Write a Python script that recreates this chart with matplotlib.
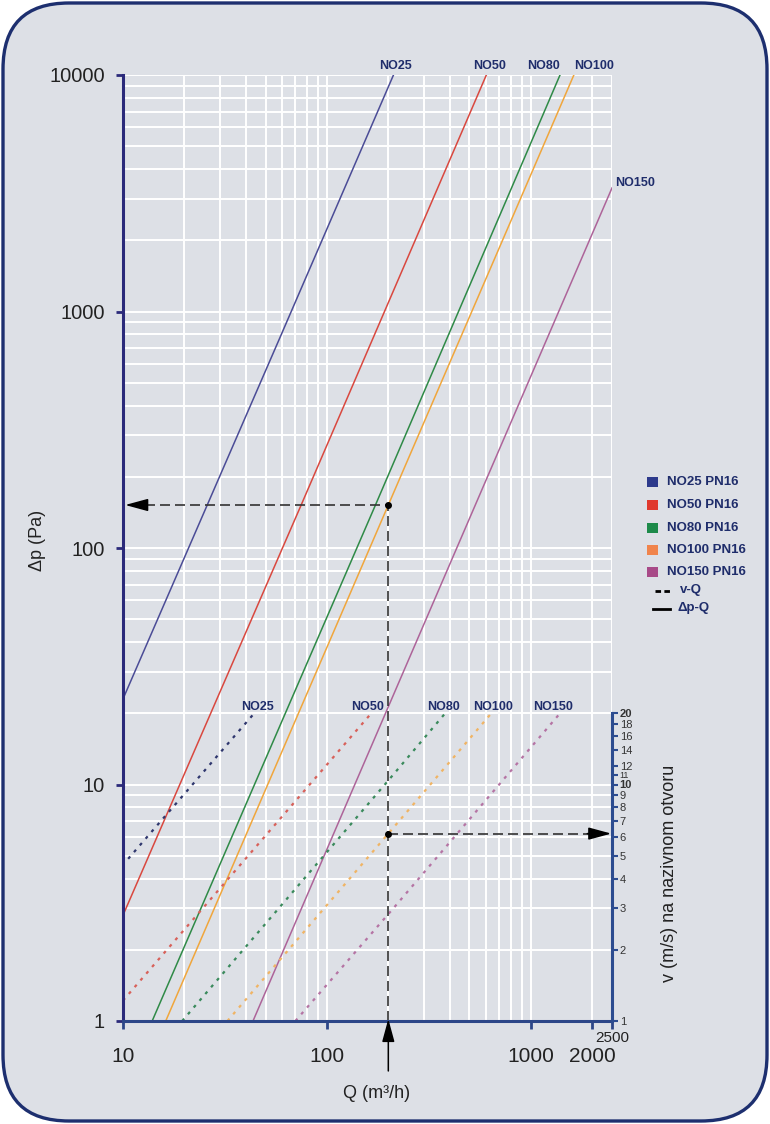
import matplotlib
matplotlib.use('Agg')
import matplotlib.pyplot as plt
from matplotlib.patches import FancyBboxPatch, Rectangle
from matplotlib.lines import Line2D
from matplotlib.ticker import FixedLocator, NullFormatter

plt.rcParams['font.family'] = ['Liberation Sans', 'DejaVu Sans']

# pressure drop curves (dp-Q)
sizes = ['NO25', 'NO50', 'NO80', 'NO100', 'NO150']
dp_q = {
    'NO25': [10, 59, 212],
    'NO50': [10, 75.5, 605],
    'NO80': [13.9, 173, 1390],
    'NO100': [16.2, 200, 1625],
    'NO150': [43.4, 137, 2500],
}
dp_val = {
    'NO25': [23, 780, 10000],
    'NO50': [2.8, 155, 10000],
    'NO80': [1, 152, 10000],
    'NO100': [1, 152, 10000],
    'NO150': [1, 10, 3330],
}

# velocity curves (v-Q), right axis shares the same log scale
v_q = {
    'NO25': [10.6, 44],
    'NO50': [10, 165],
    'NO80': [19.5, 200, 380],
    'NO100': [32.5, 200, 640],
    'NO150': [70, 212, 1390],
}
v_val = {
    'NO25': [4.85, 20],
    'NO50': [1.22, 20],
    'NO80': [1, 10.4, 20],
    'NO100': [1, 6.2, 20],
    'NO150': [1, 3.0, 20],
}

# worked example
ex_q = 200
ex_dp = 152
ex_v = 6.2

x_major = [10, 100, 1000, 2000, 2500]
x_major_labels = ['10', '100', '1000', '2000', '']
x_minor = [20, 30, 40, 50, 60, 70, 80, 90, 200, 300, 400, 500, 600, 700, 800, 900]
y_major = [1, 10, 100, 1000, 10000]
y_minor = [m * d for d in [1, 10, 100, 1000] for m in range(2, 10)]
v_ticks = [1, 2, 3, 4, 5, 6, 7, 8, 9, 10, 11, 12, 14, 16, 18, 20]

line_colors = {'NO25': '#4b4c96', 'NO50': '#d9483f', 'NO80': '#2f8a47',
               'NO100': '#f0a63c', 'NO150': '#ad6499'}
dot_colors = {'NO25': '#2f376e', 'NO50': '#d8615a', 'NO80': '#3a8a5c',
              'NO100': '#f0b464', 'NO150': '#b574a4'}
legend_colors = ['#2d3a8c', '#e0392e', '#1d8a4a', '#f0844c', '#a84a88']
navy = '#1f2d6b'

W, H = 770, 1124


def fx(px):
    return px / W


def fy(py):
    return 1 - py / H


fig = plt.figure(figsize=(7.7, 11.24), dpi=100, facecolor='white')

card = FancyBboxPatch((0.03, 0.03), 7.64, 11.18,
                      boxstyle='round,pad=0,rounding_size=0.66',
                      transform=fig.dpi_scale_trans, fc='#dde0e6',
                      ec='#1d2f6f', lw=2.4, zorder=-1)
fig.patches.append(card)

ax = fig.add_axes([fx(123), fy(1021), (612 - 123) / W, (1021 - 75) / H])
ax.set_facecolor('none')
ax.set_xscale('log')
ax.set_yscale('log')
ax.set_xlim(10, 2500)
ax.set_ylim(1, 10000)

ax.xaxis.set_major_locator(FixedLocator(x_major))
ax.xaxis.set_minor_locator(FixedLocator(x_minor))
ax.set_xticklabels(x_major_labels)
ax.xaxis.set_minor_formatter(NullFormatter())
ax.yaxis.set_major_locator(FixedLocator(y_major))
ax.yaxis.set_minor_locator(FixedLocator(y_minor))
ax.set_yticklabels([str(v) for v in y_major])
ax.yaxis.set_minor_formatter(NullFormatter())

ax.grid(which='both', color='white', lw=1.4)
ax.set_axisbelow(True)

for s in ['top', 'right']:
    ax.spines[s].set_visible(False)
ax.spines['left'].set_color('#2b2a7a')
ax.spines['left'].set_linewidth(2.2)
ax.spines['bottom'].set_color('#2c4688')
ax.spines['bottom'].set_linewidth(2.2)

ax.tick_params(axis='y', which='major', length=5, width=2, color='#2b2a7a',
               labelsize=14.5, pad=8, labelcolor='#222222')
ax.tick_params(axis='x', which='major', length=6, width=2, color='#2c4688',
               labelsize=15, pad=13, labelcolor='#222222')
ax.tick_params(which='minor', length=0)

# dp-Q solid lines
for name in sizes:
    ax.plot(dp_q[name], dp_val[name], color=line_colors[name], lw=1.1)
# v-Q dotted lines
for name in sizes:
    ax.plot(v_q[name], v_val[name], color=dot_colors[name], lw=1.6,
            ls=(0, (1.4, 2.6)))

# worked example: dashed guides and arrows
dash = (0, (6, 3))
ax.plot([ex_q, ex_q], [1, ex_dp], color='#333333', lw=1.2, ls=dash)
ax.plot([10.8, ex_q], [ex_dp, ex_dp], color='#333333', lw=1.2, ls=dash)
ax.plot([ex_q, 2300], [ex_v, ex_v], color='#333333', lw=1.2, ls=dash)
ax.plot([ex_q, ex_q], [ex_dp, ex_v], 'o', color='black', ms=4)

arrow = dict(arrowstyle='-|>,head_length=1.4,head_width=0.38', color='black',
             lw=1.1, shrinkA=0, shrinkB=0, mutation_scale=10)
ax.annotate('', xy=(10.25, ex_dp), xytext=(22, 0), textcoords='offset pixels',
            arrowprops=arrow, annotation_clip=False)
ax.annotate('', xy=(2480, ex_v), xytext=(-24, 0), textcoords='offset pixels',
            arrowprops=arrow, annotation_clip=False)
ax.annotate('', xy=(ex_q, 1.02), xytext=(0, -52), textcoords='offset pixels',
            arrowprops=arrow, annotation_clip=False)

# right velocity axis, same log scale, spine only from 1 to 20
ax2 = ax.twinx()
ax2.set_yscale('log')
ax2.set_ylim(1, 10000)
ax2.yaxis.set_major_locator(FixedLocator(v_ticks))
ax2.set_yticklabels([str(v) for v in v_ticks])
ax2.yaxis.set_minor_locator(FixedLocator([]))
for s in ['top', 'left', 'bottom']:
    ax2.spines[s].set_visible(False)
ax2.spines['right'].set_bounds(1, 20)
ax2.spines['right'].set_color('#2c4c90')
ax2.spines['right'].set_linewidth(2.2)
ax2.tick_params(axis='y', length=4, width=1.5, color='#2c4c90',
                labelsize=8, pad=1.5, labelcolor='#333333')
for lab in ax2.get_yticklabels():
    if lab.get_text() in ('10', '20'):
        lab.set_fontweight('bold')
    if lab.get_text() == '11':
        lab.set_fontsize(6.5)

# curve labels
top_labels = [('NO25', 395, 66), ('NO50', 490, 66), ('NO80', 544, 66),
              ('NO100', 594, 66), ('NO150', 635, 183)]
for txt, px, py in top_labels:
    fig.text(fx(px), fy(py), txt, ha='center', va='center', fontsize=9,
             fontweight='bold', color=navy)
v_labels = [('NO25', 257, 707), ('NO50', 368, 707), ('NO80', 444, 707),
            ('NO100', 493, 707), ('NO150', 553, 707)]
for txt, px, py in v_labels:
    fig.text(fx(px), fy(py), txt, ha='center', va='center', fontsize=9,
             fontweight='bold', color=navy)

# axis titles
fig.text(fx(38), fy(540), 'Δp (Pa)', rotation=90, ha='center', va='center',
         fontsize=13, color='#222222')
fig.text(fx(377), fy(1093), 'Q (m³/h)', ha='center', va='center',
         fontsize=13, color='#222222')
fig.text(fx(669), fy(873), 'v (m/s) na nazivnom otvoru', rotation=90,
         ha='center', va='center', fontsize=13, color='#222222')
fig.text(fx(612), fy(1038), '2500', ha='center', va='center', fontsize=11,
         color='#222222')

# legend, drawn by hand to keep the spacing of the original
leg_rows = [482, 505, 528, 550, 572]
for name, col, py in zip(sizes, legend_colors, leg_rows):
    fig.add_artist(Rectangle((fx(647), fy(py + 5)), 11 / W, 10 / H,
                             transform=fig.transFigure, fc=col, ec='none'))
    fig.text(fx(667), fy(py), name + ' PN16', ha='left', va='center',
             fontsize=9.5, fontweight='bold', color=navy)
fig.add_artist(Line2D([fx(655), fx(670)], [fy(591), fy(591)], color='black',
                      lw=2, ls=(0, (2, 1.2)), transform=fig.transFigure))
fig.text(fx(680), fy(590), 'v-Q', ha='left', va='center', fontsize=9.5,
         fontweight='bold', color=navy)
fig.add_artist(Line2D([fx(653), fx(670)], [fy(609), fy(609)], color='black',
                      lw=2, transform=fig.transFigure))
fig.text(fx(678), fy(608), 'Δp-Q', ha='left', va='center', fontsize=9.5,
         fontweight='bold', color=navy)

fig.savefig('out.png', dpi=100, facecolor='white')
